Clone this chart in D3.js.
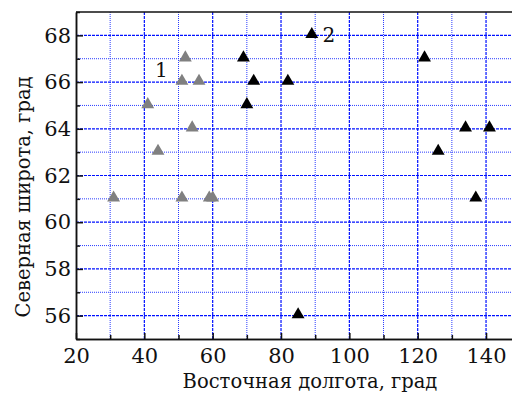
<!DOCTYPE html>
<html>
<head>
<meta charset="utf-8">
<script src="https://cdn.jsdelivr.net/npm/d3@7"></script>
<style>
  html, body { margin: 0; padding: 0; background: #fff; }
  svg { display: block; }
</style>
</head>
<body>
<div id="chart"></div>
<script>
// group 1 (grey triangles): longitude, latitude
const group1Lon = [52, 51, 56, 41, 54, 44, 31, 51, 59, 60];
const group1Lat = [67, 66, 66, 65, 64, 63, 61, 61, 61, 61];
// group 2 (black triangles)
const group2Lon = [69, 72, 70, 89, 82, 122, 134, 141, 126, 137, 85];
const group2Lat = [67, 66, 65, 68, 66, 67, 64, 64, 63, 61, 56];
// group labels
const groupLabels = ["1", "2"];
const labelLon = [45, 94];
const labelLat = [66.5, 68];

const xTicks = [20, 40, 60, 80, 100, 120, 140];
const xMinor = [30, 50, 70, 90, 110, 130, 150];
const yTicks = [56, 58, 60, 62, 64, 66, 68];
const yMinor = [55, 57, 59, 61, 63, 65, 67, 69];

const xTitle = "Восточная долгота, град";
const yTitle = "Северная широта, град";

const width = 512, height = 394;
const margin = { left: 76, top: 12, bottom: 55 };
const font = "'DejaVu Serif', 'Liberation Serif', serif";

const svg = d3.select("#chart").append("svg")
  .attr("width", width)
  .attr("height", height)
  .attr("font-family", font);

const x = d3.scaleLinear().domain([20, 150]).range([margin.left, margin.left + 130 * 3.417]);
const y = d3.scaleLinear().domain([55, 69]).range([height - margin.bottom, margin.top]);

const x0 = x.range()[0], x1 = x.range()[1];
const y0 = y.range()[0], y1 = y.range()[1];

// grid
const grid = svg.append("g");
grid.selectAll(".gx-minor").data(xMinor).join("line")
  .attr("x1", d => x(d)).attr("x2", d => x(d))
  .attr("y1", y0).attr("y2", y1)
  .attr("stroke", "#2a3cff").attr("stroke-width", 1)
  .attr("stroke-dasharray", "1,1");
grid.selectAll(".gy-minor").data(yMinor.filter(d => d > 55 && d < 69)).join("line")
  .attr("y1", d => y(d)).attr("y2", d => y(d))
  .attr("x1", x0).attr("x2", x1)
  .attr("stroke", "#2a3cff").attr("stroke-width", 1)
  .attr("stroke-dasharray", "1,1");
grid.selectAll(".gx-major").data(xTicks.slice(1)).join("line")
  .attr("x1", d => x(d)).attr("x2", d => x(d))
  .attr("y1", y0).attr("y2", y1)
  .attr("stroke", "#0010ff").attr("stroke-width", 1.2)
  .attr("stroke-dasharray", "3,1");
grid.selectAll(".gy-major").data(yTicks).join("line")
  .attr("y1", d => y(d)).attr("y2", d => y(d))
  .attr("x1", x0).attr("x2", x1)
  .attr("stroke", "#0010ff").attr("stroke-width", 1.2)
  .attr("stroke-dasharray", "3,1");

// axes (inward ticks)
const xAxis = svg.append("g")
  .attr("transform", `translate(0,${y0})`)
  .call(d3.axisBottom(x).tickValues(xTicks).tickSize(-6).tickSizeOuter(0).tickPadding(9).tickFormat(d3.format("d")));
const yAxis = svg.append("g")
  .attr("transform", `translate(${x0},0)`)
  .call(d3.axisLeft(y).tickValues(yTicks).tickSize(-7).tickSizeOuter(0).tickPadding(5).tickFormat(d3.format("d")));

svg.append("g").attr("transform", `translate(0,${y0})`)
  .call(d3.axisBottom(x).tickValues(xMinor).tickSize(-4).tickSizeOuter(0).tickFormat(""));
svg.append("g").attr("transform", `translate(${x0},0)`)
  .call(d3.axisLeft(y).tickValues(yMinor).tickSize(-4).tickSizeOuter(0).tickFormat(""));

svg.selectAll("g").attr("font-family", font);
[xAxis, yAxis].forEach(a => {
  a.selectAll("text").attr("font-size", 21).attr("fill", "#111");
});
svg.selectAll(".domain").attr("stroke", "#111").attr("stroke-width", 1.5);
svg.selectAll(".tick line").attr("stroke", "#111").attr("stroke-width", 1.5);

// top border
svg.append("line")
  .attr("x1", x0).attr("x2", x1).attr("y1", y1).attr("y2", y1)
  .attr("stroke", "#111").attr("stroke-width", 1.5);

// points
const tri = d3.symbol().type(d3.symbolTriangle).size(72);
const pts1 = group1Lon.map((d, i) => ({ lon: d, lat: group1Lat[i] }));
const pts2 = group2Lon.map((d, i) => ({ lon: d, lat: group2Lat[i] }));

svg.append("g").selectAll("path").data(pts1).join("path")
  .attr("d", tri)
  .attr("transform", d => `translate(${x(d.lon)},${y(d.lat) - 1})`)
  .attr("fill", "#808080");
svg.append("g").selectAll("path").data(pts2).join("path")
  .attr("d", tri)
  .attr("transform", d => `translate(${x(d.lon)},${y(d.lat) - 1})`)
  .attr("fill", "#000");

// group labels
svg.append("g").selectAll("text").data(groupLabels).join("text")
  .attr("x", (d, i) => x(labelLon[i]))
  .attr("y", (d, i) => y(labelLat[i]))
  .attr("dy", "0.35em")
  .attr("text-anchor", "middle")
  .attr("font-size", 20)
  .attr("fill", "#111")
  .text(d => d);

// axis titles
svg.append("text")
  .attr("x", 310).attr("y", 388)
  .attr("text-anchor", "middle")
  .attr("font-size", 19.5)
  .attr("fill", "#111")
  .text(xTitle);
svg.append("text")
  .attr("transform", `translate(30,197) rotate(-90)`)
  .attr("text-anchor", "middle")
  .attr("font-size", 19.5)
  .attr("fill", "#111")
  .text(yTitle);
</script>
</body>
</html>
